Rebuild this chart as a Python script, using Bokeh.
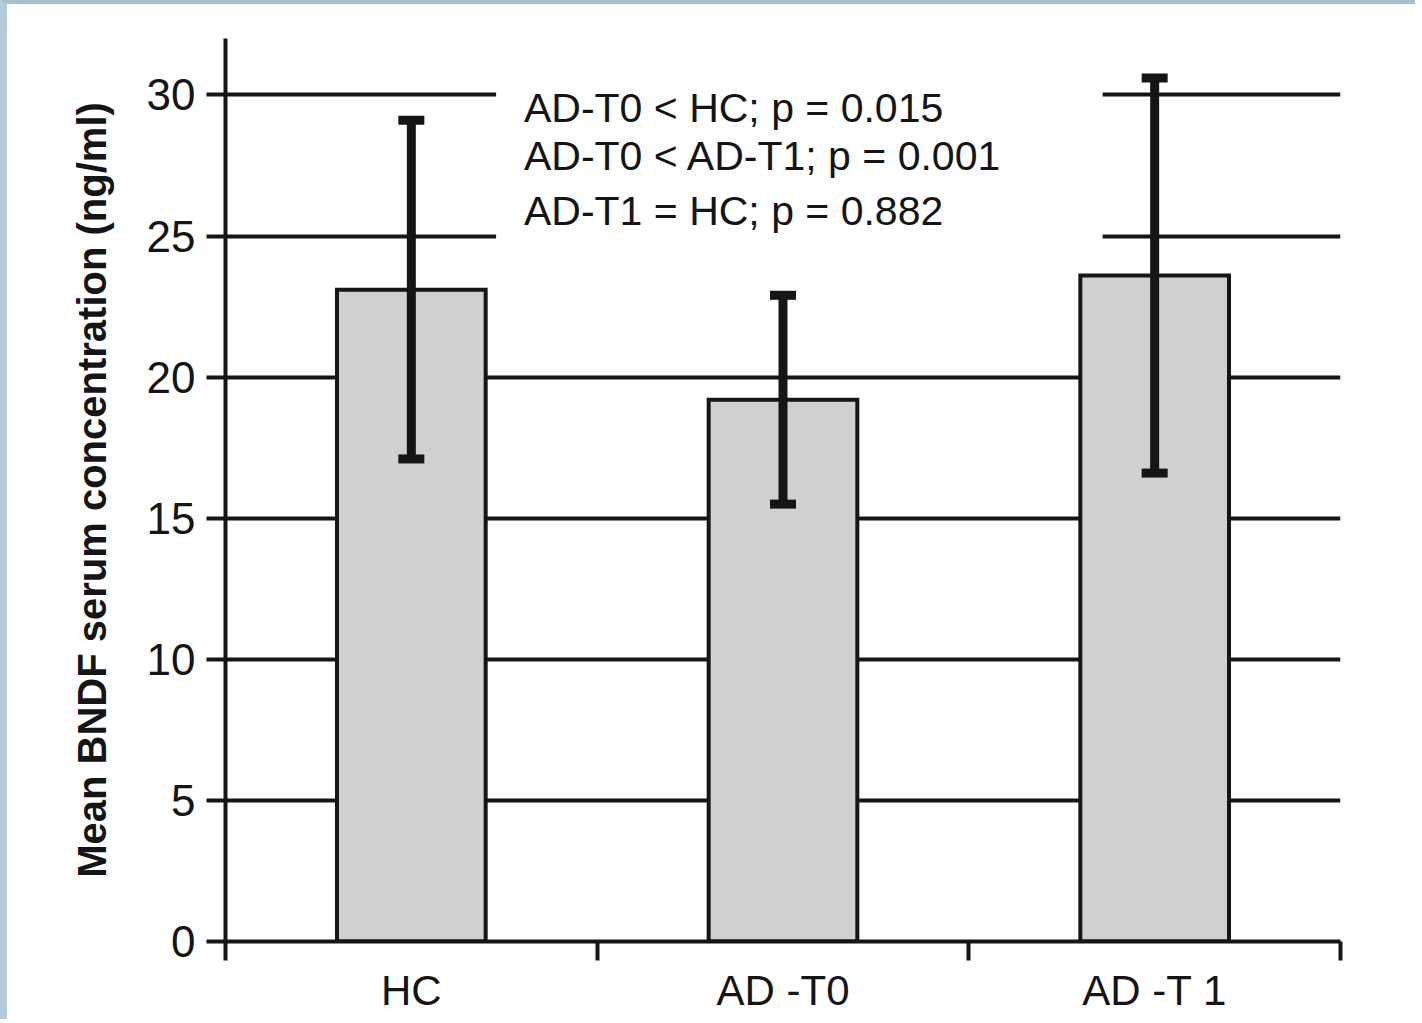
from bokeh.plotting import figure
from bokeh.models import (Range1d, FixedTicker, ColumnDataSource, Whisker, TeeHead,
                          Label, LinearAxis, Grid)
from bokeh.embed import file_html
from bokeh.resources import INLINE

# ---- data ----
categories = ["HC", "AD -T0", "AD -T 1"]
means = [23.1, 19.2, 23.6]
sds = [6.0, 3.7, 7.0]
y_ticks = [0, 5, 10, 15, 20, 25, 30]
y_label = "Mean BNDF serum concentration (ng/ml)"
notes = ["AD-T0 < HC; p = 0.015", "AD-T0 < AD-T1; p = 0.001", "AD-T1 = HC; p  = 0.882"]

INK = "#151515"
FONT = "Liberation Sans"

xs = [i + 0.5 for i in range(len(categories))]
src = ColumnDataSource(dict(
    x=xs, top=means,
    upper=[m + s for m, s in zip(means, sds)],
    lower=[m - s for m, s in zip(means, sds)],
))

p = figure(width=1415, height=1019, output_backend="svg", toolbar_location=None,
           x_range=Range1d(0, 3), y_range=Range1d(0, 32),
           x_axis_type=None, y_axis_type=None,
           min_border_left=218, min_border_right=82, min_border_top=34, min_border_bottom=82)
p.styles = {"border-left": "7px solid #b3cadb", "border-top": "4px solid #a9c0d0"}
p.outline_line_color = None
p.background_fill_color = "white"
p.border_fill_color = "white"

# y axis
yax = LinearAxis(ticker=FixedTicker(ticks=y_ticks, minor_ticks=[]))
yax.axis_line_color = INK
yax.axis_line_width = 4
yax.major_tick_line_color = INK
yax.major_tick_line_width = 4
yax.major_tick_out = 19
yax.major_tick_in = 0
yax.major_label_standoff = 11
yax.major_label_text_font = FONT
yax.major_label_text_font_size = "44px"
yax.major_label_text_color = INK
yax.axis_label = y_label
yax.axis_label_text_font = FONT
yax.axis_label_text_font_size = "40px"
yax.axis_label_text_font_style = "bold"
yax.axis_label_text_color = INK
yax.axis_label_standoff = 30
p.add_layout(yax, "left")

# x axis: boundaries as minor ticks, labels at centres
xax = LinearAxis(ticker=FixedTicker(ticks=xs, minor_ticks=list(range(len(categories) + 1))))
xax.major_label_overrides = {x: c for x, c in zip(xs, categories)}
xax.axis_line_color = INK
xax.axis_line_width = 4
xax.major_tick_out = 0
xax.major_tick_in = 0
xax.major_tick_line_color = None
xax.minor_tick_out = 19
xax.minor_tick_in = 0
xax.minor_tick_line_color = INK
xax.minor_tick_line_width = 4
xax.major_label_standoff = 6
xax.major_label_text_font = FONT
xax.major_label_text_font_size = "42px"
xax.major_label_text_color = INK
p.add_layout(xax, "below")

# grid
grid = Grid(dimension=1, ticker=FixedTicker(ticks=y_ticks[1:]))
grid.grid_line_color = INK
grid.grid_line_width = 4
p.add_layout(grid, "center")

# white box behind annotation text (hides grid lines)
p.quad(left=[0.728], right=[2.36], bottom=[24.0], top=[31.6],
       fill_color="white", line_color=None)

# bars
p.vbar(x="x", top="top", width=0.4, bottom=0, source=src,
       fill_color="#cfd0d2", line_color=INK, line_width=4, line_join="miter")

# error bars
w = Whisker(source=src, base="x", upper="upper", lower="lower",
            line_color=INK, line_width=9, level="annotation",
            upper_head=TeeHead(size=26, line_color=INK, line_width=9),
            lower_head=TeeHead(size=26, line_color=INK, line_width=9))
p.add_layout(w)

# annotation text
for txt, yb in zip(notes, [29.55, 27.85, 25.9]):
    p.add_layout(Label(x=0.803, y=yb, text=txt, text_font=FONT, text_font_size="41px",
                       text_color=INK, text_baseline="alphabetic", text_align="left"))

open("out.html", "w").write(file_html(p, INLINE))
